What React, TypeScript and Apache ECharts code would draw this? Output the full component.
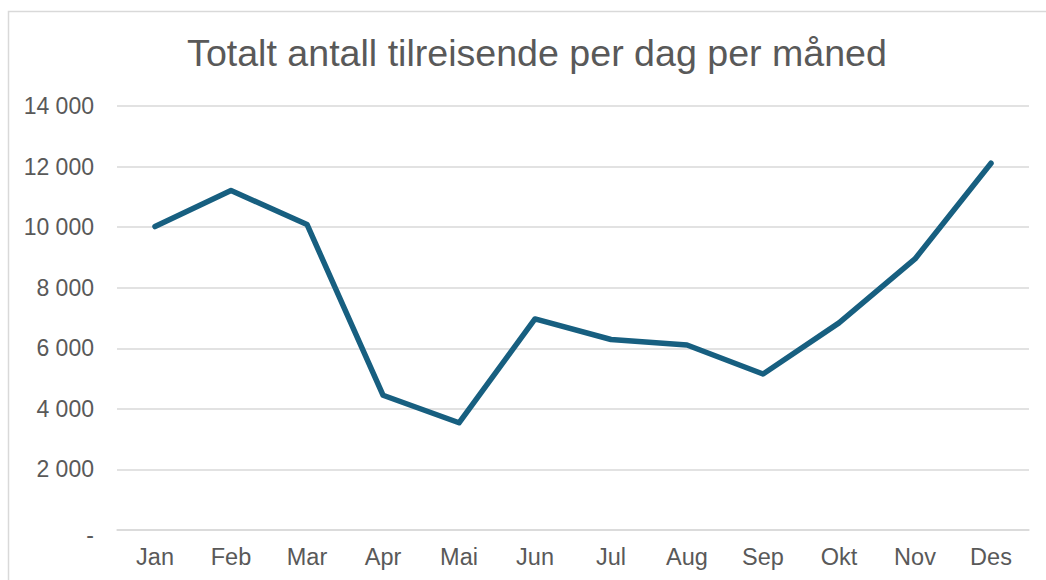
import React, { useEffect, useRef } from "react";
import * as echarts from "echarts";

const titleText = "Totalt antall tilreisende per dag per måned";
const months = ["Jan", "Feb", "Mar", "Apr", "Mai", "Jun", "Jul", "Aug", "Sep", "Okt", "Nov", "Des"];
const visitors = [10020, 11210, 10090, 4450, 3540, 6970, 6290, 6110, 5150, 6840, 8950, 12110];
const yTickLabels = ["-", "2 000", "4 000", "6 000", "8 000", "10 000", "12 000", "14 000"];

export default function App() {
  const ref = useRef<HTMLDivElement>(null);
  useEffect(() => {
    if (!ref.current) return;
    const chart = echarts.init(ref.current, undefined, { renderer: "svg" });
    const font = "'Liberation Sans', Arial, sans-serif";
    chart.setOption({
      animation: false,
      backgroundColor: "#ffffff",
      title: {
        text: titleText,
        left: 532,
        top: 29,
        textAlign: "center",
        textStyle: { fontFamily: font, fontSize: 37.6, fontWeight: "normal", color: "#595959" },
      },
      graphic: [
        {
          type: "rect",
          shape: { x: 8.5, y: 11.5, width: 1200, height: 700 },
          style: { fill: "none", stroke: "#d9d9d9", lineWidth: 1.5 },
          silent: true,
        },
      ],
      grid: { left: 117, right: 17, top: 106, bottom: 50 },
      xAxis: {
        type: "category",
        data: months,
        boundaryGap: true,
        axisLine: { show: true, lineStyle: { color: "#d9d9d9", width: 1.5 } },
        axisTick: { show: false },
        axisLabel: { fontFamily: font, fontSize: 23.5, color: "#595959", margin: 15 },
      },
      yAxis: {
        type: "value",
        min: 0,
        max: 14000,
        interval: 2000,
        axisLine: { show: false },
        axisTick: { show: false },
        splitLine: { lineStyle: { color: "#d9d9d9", width: 1.5 } },
        axisLabel: {
          fontFamily: font,
          fontSize: 23,
          color: "#595959",
          margin: 23,
          formatter: (v: number) => {
            const l = yTickLabels[Math.round(v / 2000)] ?? "";
            return v === 0 ? "{z|" + l + "}" : l;
          },
          rich: {
            z: { fontFamily: font, fontSize: 23, color: "#595959", padding: [10, 0, 0, 0] },
          },
        },
      },
      series: [
        {
          type: "line",
          data: visitors,
          symbol: "none",
          lineStyle: { color: "#175f80", width: 5.5, cap: "round", join: "round" },
        },
      ],
    });
    return () => chart.dispose();
  }, []);
  return (
    <div
      ref={ref}
      style={{ position: "absolute", left: 0, top: 0, width: 1046, height: 580 }}
    />
  );
}
